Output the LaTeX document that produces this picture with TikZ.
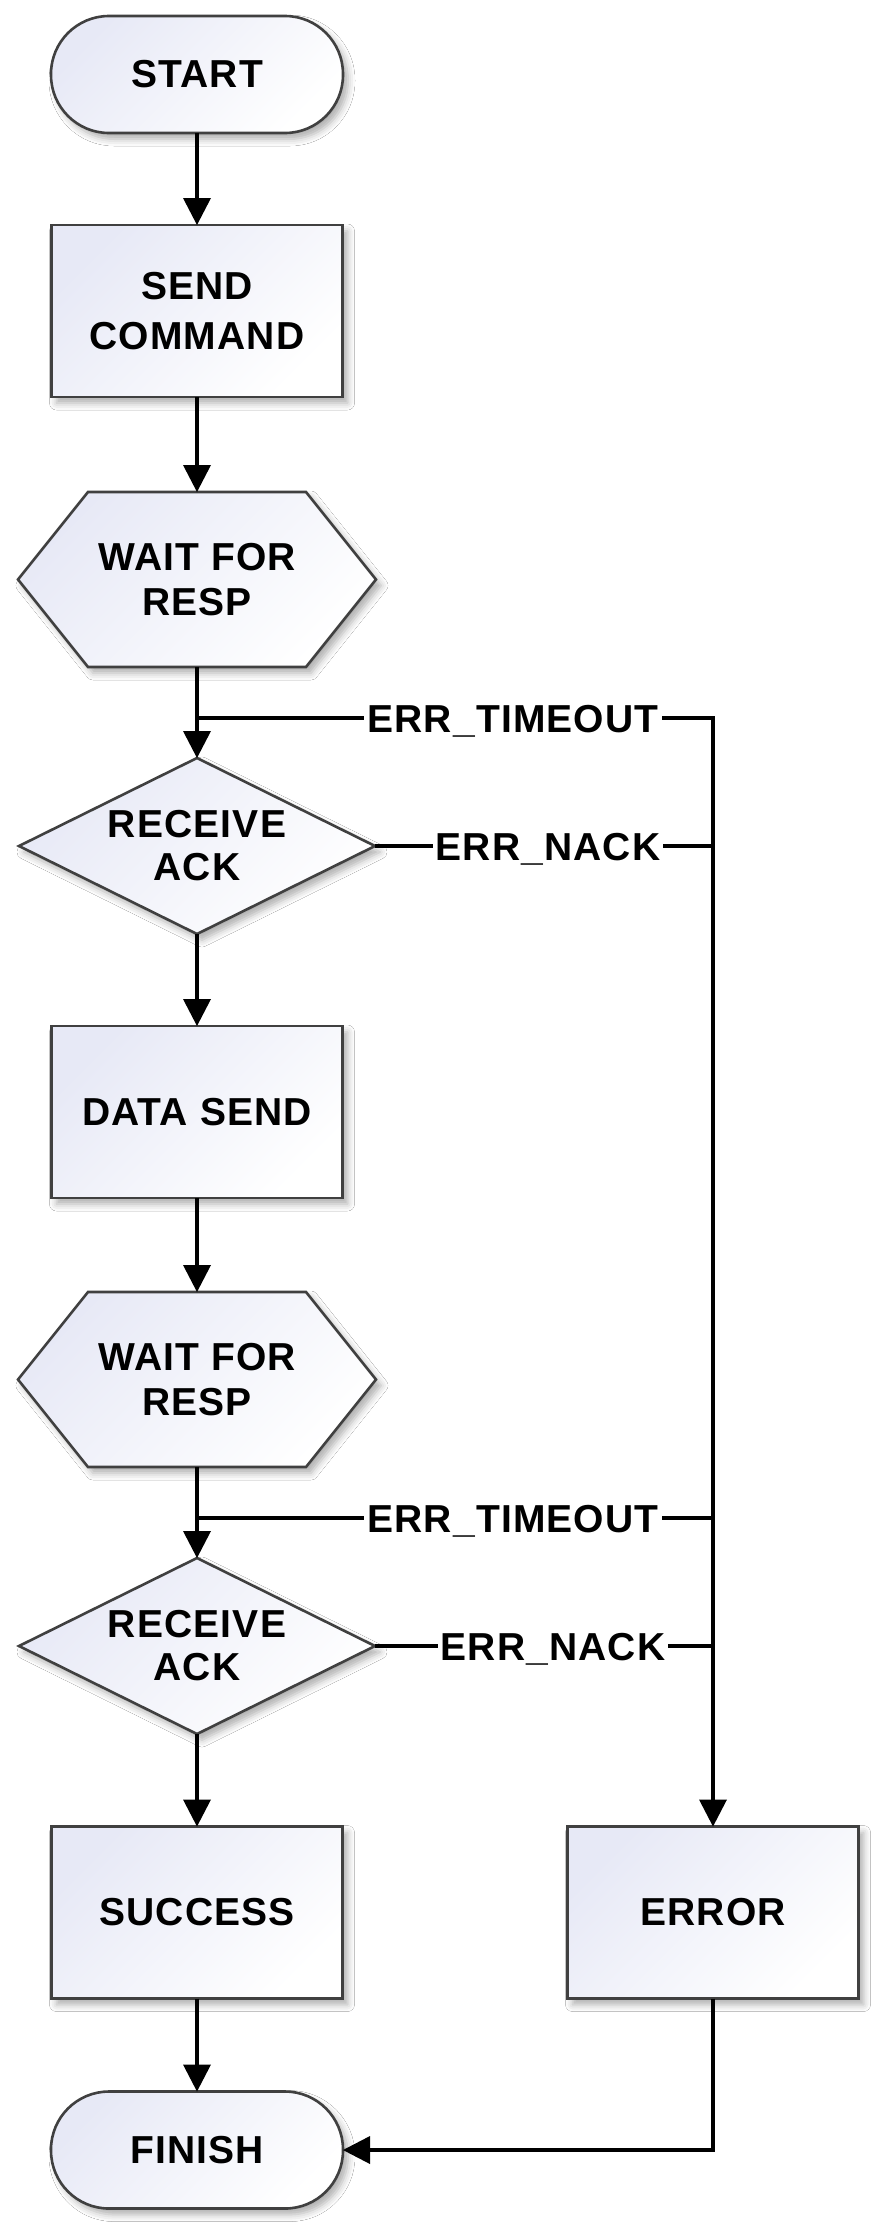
\documentclass[tikz,border=0pt]{standalone}
\usepackage{fontspec}
\setmainfont{Liberation Sans}[LetterSpace=3]
\usetikzlibrary{arrows.meta,calc,shadows.blur}
\definecolor{lav}{RGB}{231,233,246}
\definecolor{bord}{RGB}{64,64,64}
\begin{document}
\begin{tikzpicture}[x=1pt,y=-1pt,
  shapefill/.style={draw=bord, line width=2.6pt, line join=miter,
    top color=lav, bottom color=white, shading angle=45,
    blur shadow={shadow xshift=5pt, shadow yshift=-6pt, shadow blur radius=7pt, shadow opacity=32}},
  txt/.style={text=black, align=center, inner sep=0pt, outer sep=0pt},
  box/.style={shapefill, txt, rectangle, minimum width=291pt, minimum height=172pt,
    font=\bfseries\fontsize{39}{50}\selectfont},
  term/.style={shapefill, txt, rectangle, rounded corners=58pt, minimum width=292pt, minimum height=117pt,
    font=\bfseries\fontsize{39}{47}\selectfont},
  hexbox/.style={txt, rectangle, minimum width=358pt, minimum height=175pt},
  diabox/.style={txt, rectangle, minimum width=356pt, minimum height=176pt},
  hextext/.style={txt, font=\bfseries\fontsize{39}{45}\selectfont},
  diatext/.style={txt, font=\bfseries\fontsize{39}{43}\selectfont},
  conn/.style={draw=black, line width=3.6pt, line join=miter},
  arr/.style={conn, -{Triangle[length=27pt,width=28pt,line width=0pt]}},
  lbl/.style={fill=white, text=black, inner xsep=3pt, inner ysep=2pt, text height=28pt, text depth=0pt,
    font=\bfseries\fontsize{39}{45}\selectfont}
]
\fill[white] (0,0) rectangle (887,2236);
\useasboundingbox (0,0) rectangle (887,2236);

% outline frames of the hexagons and diamonds (anchors only)
\node[hexbox] (wait1) at (197,579.5) {};
\node[diabox] (diam1) at (197,846) {};
\node[hexbox] (wait2) at (197,1379.5) {};
\node[diabox] (diam2) at (197,1646) {};

\foreach \h in {wait1,wait2}{
  \path[shapefill] (\h.west) -- ($(\h.north west)+(70,0)$) -- ($(\h.north east)+(-70,0)$)
     -- (\h.east) -- ($(\h.south east)+(-70,0)$) -- ($(\h.south west)+(70,0)$) -- cycle;
}
\foreach \d in {diam1,diam2}{
  \path[shapefill] (\d.west) -- (\d.north) -- (\d.east) -- (\d.south) -- cycle;
}

% nodes
\node[term] (start) at (197,74.5) {START};
\node[box] (send) at (197,311) {SEND\\COMMAND};
\node[hextext] (wait1t) at (wait1.center) {WAIT FOR\\RESP};
\node[diatext] (diam1t) at (diam1.center) {RECEIVE\\ACK};
\node[box] (dsend) at (197,1112) {DATA SEND};
\node[hextext] (wait2t) at (wait2.center) {WAIT FOR\\RESP};
\node[diatext] (diam2t) at (diam2.center) {RECEIVE\\ACK};
\node[box] (success) at (197,1912.5) {SUCCESS};
\node[box] (error) at (713,1912.5) {ERROR};
\node[term] (finish) at (197,2150) {FINISH};

% junction coordinates
\coordinate (j1) at (197,718);
\coordinate (j2) at (197,1518);

% main flow
\draw[arr] (start.south) -- (send.north);
\draw[arr] (send.south) -- (wait1.north);
\draw[arr] (wait1.south) -- (diam1.north);
\draw[arr] (diam1.south) -- (dsend.north);
\draw[arr] (dsend.south) -- (wait2.north);
\draw[arr] (wait2.south) -- (diam2.north);
\draw[arr] (diam2.south) -- (success.north);
\draw[arr] (success.south) -- (finish.north);

% error branches
\draw[arr] (j1) -- (j1 -| error.north) -- (error.north);
\draw[conn] (diam1.east) -- (diam1.east -| error.north);
\draw[conn] (j2) -- (j2 -| error.north);
\draw[conn] (diam2.east) -- (diam2.east -| error.north);
\draw[arr] (error.south) |- (finish.east);

% labels
\node[lbl] (t1) at (513,718) {ERR\_TIMEOUT};
\node[lbl] (n1) at (548,846) {ERR\_NACK};
\node[lbl] (t2) at (513,1518) {ERR\_TIMEOUT};
\node[lbl] (n2) at (553,1646) {ERR\_NACK};
\end{tikzpicture}
\end{document}
